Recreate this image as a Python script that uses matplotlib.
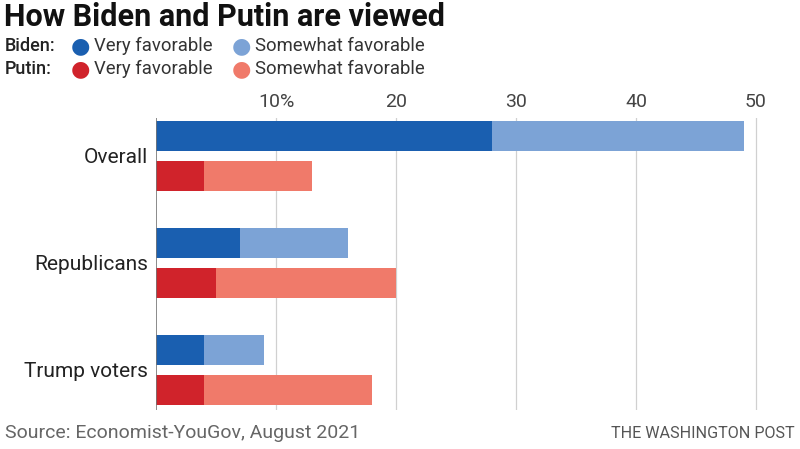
import matplotlib
matplotlib.use("Agg")
import matplotlib.pyplot as plt

groups = ["Overall", "Republicans", "Trump voters"]
biden_very = [28, 7, 4]
biden_some = [21, 9, 5]
putin_very = [4, 5, 4]
putin_some = [9, 15, 14]
ticks = [10, 20, 30, 40, 50]
tick_labels = ["10%", "20", "30", "40", "50"]

c_bv = "#1a5fb0"
c_bs = "#7ca3d6"
c_pv = "#d0232b"
c_ps = "#f07a6a"

plt.rcParams['font.family'] = ['Roboto', 'DejaVu Sans']

fig = plt.figure(figsize=(8, 4.49), dpi=100)
W, H = 800, 449
# axes in pixel coords: left 156, right 768, top 118, bottom 410
ax = fig.add_axes([156 / W, 1 - 410 / H, 612 / W, 292 / H])

off = 0.19
hgt = 0.28
for i in range(len(groups)):
    ax.barh(i - off, biden_very[i], height=hgt, color=c_bv, zorder=3)
    ax.barh(i - off, biden_some[i], left=biden_very[i], height=hgt, color=c_bs, zorder=3)
    ax.barh(i + off, putin_very[i], height=hgt, color=c_pv, zorder=3)
    ax.barh(i + off, putin_some[i], left=putin_very[i], height=hgt, color=c_ps, zorder=3)

ax.set_xlim(0, 51)
ax.set_ylim(2.374, -0.355)
for t in ticks:
    ax.axvline(t, color="#d0d0d0", lw=0.9, zorder=1)
ax.axvline(0, color="#777777", lw=1.2, zorder=4)

ax.xaxis.tick_top()
ax.set_xticks(ticks)
ax.set_xticklabels(tick_labels, fontsize=14, color="#444444")
ax.tick_params(axis="x", length=0, pad=5)
ax.set_yticks(range(len(groups)))
ax.set_yticklabels(groups, fontsize=15, color="#222222")
ax.tick_params(axis="y", length=0, pad=6)
for s in ax.spines.values():
    s.set_visible(False)

fig.text(4 / W, 1 - 17 / H, "How Biden and Putin are viewed", fontsize=22,
         fontweight="bold", color="#111111", va="center", ha="left")

rows = [("Biden:", c_bv, c_bs, 46), ("Putin:", c_pv, c_ps, 69)]
for name, cv, cs, y in rows:
    yy = 1 - y / H
    fig.text(5 / W, yy, name, fontsize=13, fontweight="medium", color="#222222", va="center")
    fig.text(80 / W, yy, "\u25CF", fontsize=16, color=cv, va="center", ha="center",
             family=["DejaVu Sans"])
    fig.text(94 / W, yy, "Very favorable", fontsize=13.3, color="#333333", va="center")
    fig.text(241 / W, yy, "\u25CF", fontsize=16, color=cs, va="center", ha="center",
             family=["DejaVu Sans"])
    fig.text(255 / W, yy, "Somewhat favorable", fontsize=13.3, color="#333333", va="center")

fig.text(5 / W, 1 - 433 / H, "Source: Economist-YouGov, August 2021", fontsize=14,
         color="#666666", va="center")
fig.text(795 / W, 1 - 434 / H, "THE WASHINGTON POST", fontsize=11.6,
         color="#555555", va="center", ha="right")

fig.savefig("out.png", dpi=100, facecolor="white")
